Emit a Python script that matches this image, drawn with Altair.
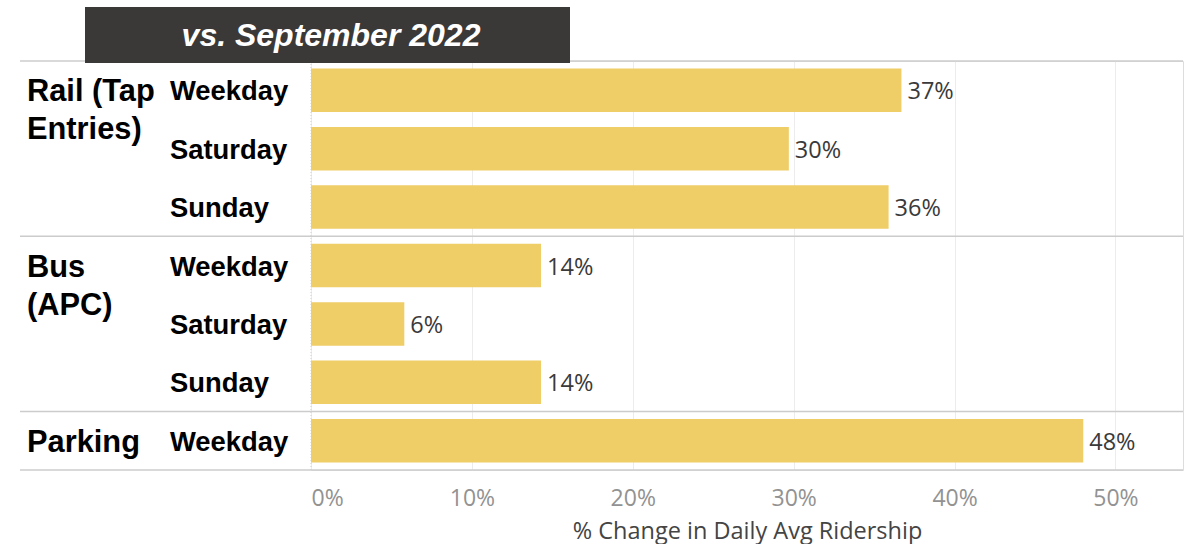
import altair as alt
import pandas as pd

rows = ["r0", "r1", "r2", "r3", "r4", "r5", "r6"]
days = ["Weekday", "Saturday", "Sunday", "Weekday", "Saturday", "Sunday", "Weekday"]
values = [36.7, 29.7, 35.9, 14.3, 5.8, 14.3, 48.0]
labels = ["37%", "30%", "36%", "14%", "6%", "14%", "48%"]

group_rows = ["r0", "r3", "r6"]
group_line1 = ["Rail (Tap", "Bus", "Parking"]
group_line2_rows = ["r0", "r3"]
group_line2 = ["Entries)", "(APC)"]

x_ticks = [0, 10, 20, 30, 40, 50]
x_max = 54.2
title_text = "vs. September 2022"
x_title = "% Change in Daily Avg Ridership"

W, H = 872, 409
LEFT, TOP = 311, 61

df = pd.DataFrame({"row": rows, "day": days, "value": values, "label": labels})
g1 = pd.DataFrame({"row": group_rows, "text": group_line1})
g2 = pd.DataFrame({"row": group_line2_rows, "text": group_line2})
sep = pd.DataFrame({"row": group_rows})
bottom = pd.DataFrame({"row": [rows[-1]]})
zero = pd.DataFrame({"v": [0]})
ttl = pd.DataFrame({"t": [title_text]})

yscale = alt.Scale(domain=rows, paddingInner=0, paddingOuter=0)
xscale = alt.Scale(domain=[0, x_max], nice=False)

Y = lambda **kw: alt.Y("row:N", scale=yscale, axis=None, **kw)

bars = alt.Chart(df).mark_bar(
    color="#EFCD67", height=alt.RelativeBandSize(band=0.745)
).encode(
    y=Y(),
    x=alt.X(
        "value:Q",
        scale=xscale,
        title=x_title,
        axis=alt.Axis(
            values=x_ticks,
            labelExpr="datum.value + '%'",
            grid=True,
            gridColor="#ececec",
            gridWidth=1,
            domain=False,
            ticks=False,
            labelFlush=True,
            labelPadding=17,
            labelFont="Open Sans",
            labelFontSize=23,
            labelColor="#929292",
            titleFont="Open Sans",
            titleFontSize=23.5,
            titleFontWeight="normal",
            titleColor="#444444",
            titlePadding=9,
        ),
    ),
)

value_text = alt.Chart(df).mark_text(
    align="left", baseline="middle", dx=6, dy=2, font="Open Sans", fontSize=23.5, color="#3a3a3a"
).encode(y=Y(), x=alt.X("value:Q", scale=xscale), text="label:N")

day_text = alt.Chart(df).mark_text(
    align="left", baseline="middle", dy=2, font="Liberation Sans", fontWeight="bold",
    fontSize=27.4, color="#000000"
).encode(y=Y(), x=alt.value(170 - LEFT), text="day:N")

grp1 = alt.Chart(g1).mark_text(
    align="left", baseline="middle", dy=2, font="Liberation Sans", fontWeight="bold",
    fontSize=30.8, color="#000000"
).encode(y=Y(), x=alt.value(27 - LEFT), text="text:N")

grp2 = alt.Chart(g2).mark_text(
    align="left", baseline="middle", dy=40, font="Liberation Sans", fontWeight="bold",
    fontSize=30.8, color="#000000"
).encode(y=Y(), x=alt.value(27 - LEFT), text="text:N")

sep_rules = alt.Chart(sep).mark_rule(color="#cccccc", strokeWidth=1.6).encode(
    y=Y(bandPosition=0), x=alt.value(20 - LEFT), x2=alt.value(W)
)
bottom_rule = alt.Chart(bottom).mark_rule(color="#cccccc", strokeWidth=1.6).encode(
    y=Y(bandPosition=1), x=alt.value(20 - LEFT), x2=alt.value(W)
)

zero_rule = alt.Chart(zero).mark_rule(color="#cfcfcf", strokeDash=[1, 2], strokeWidth=1).encode(
    x=alt.X("v:Q", scale=xscale)
)

title_box = alt.Chart(ttl).mark_rect(color="#3b3838").encode(
    x=alt.value(85 - LEFT), x2=alt.value(570 - LEFT), y=alt.value(7 - TOP), y2=alt.value(2)
)
title_label = alt.Chart(ttl).mark_text(
    align="center", baseline="middle", dy=1, font="Liberation Sans", fontWeight="bold",
    fontStyle="italic", fontSize=32, color="#ffffff"
).encode(x=alt.value(331 - LEFT), y=alt.value(35 - TOP), text="t:N")

chart = alt.layer(
    zero_rule, bars, value_text, day_text, grp1, grp2, sep_rules, bottom_rule, title_box, title_label
).properties(
    width=W, height=H,
    autosize=alt.AutoSizeParams(type="none"),
    padding={"left": LEFT, "top": TOP, "right": 1191 - LEFT - W, "bottom": 544 - TOP - H},
).configure_view(stroke=None).configure(background="#ffffff")

chart.save("out.html", embed_options={"renderer": "svg", "actions": False})
